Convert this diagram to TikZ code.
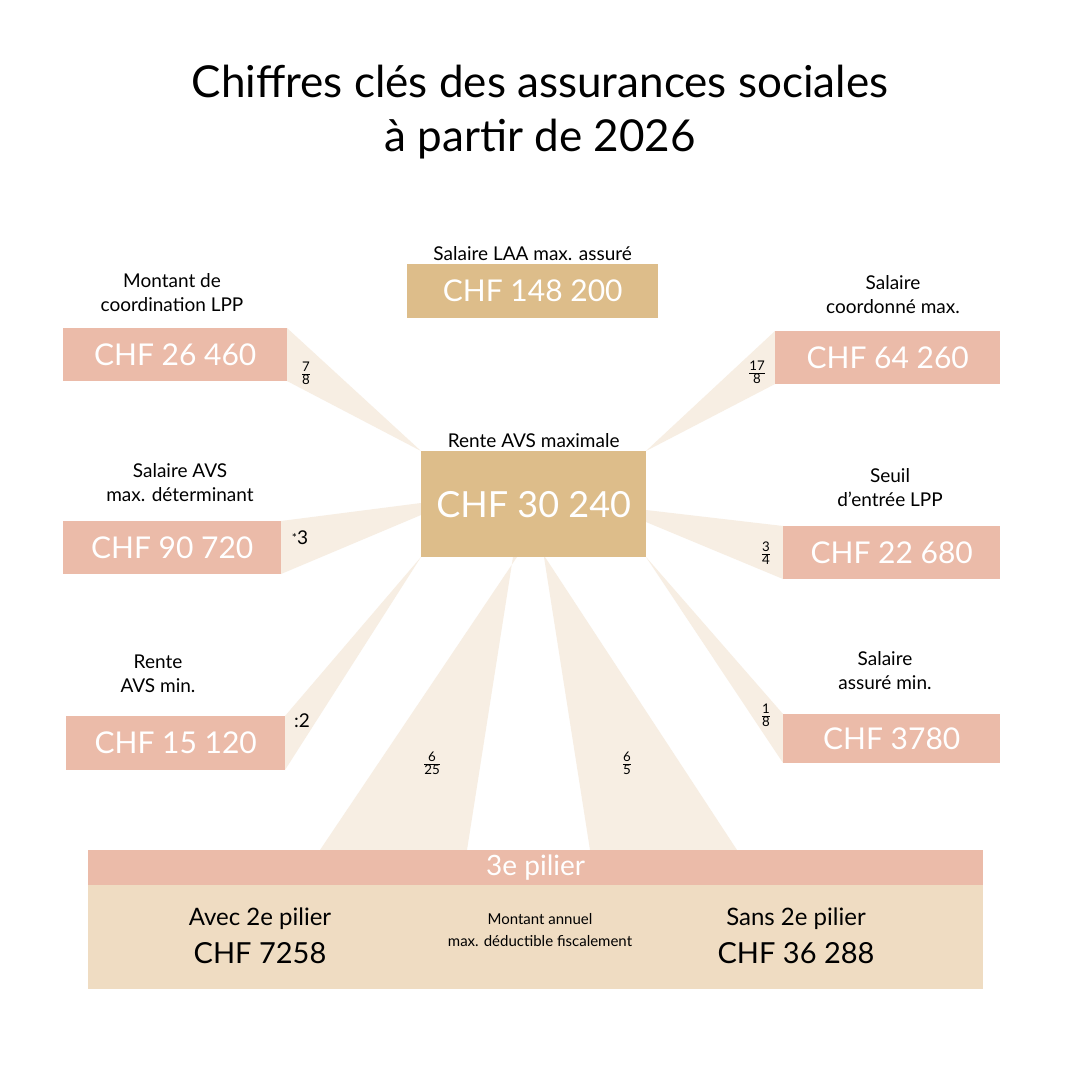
\documentclass[tikz,border=0pt]{standalone}
\usepackage{fontspec}
\setmainfont{Lato}
\definecolor{gold}{HTML}{DDBD8A}
\definecolor{pink}{HTML}{EBBBA9}
\definecolor{beam}{HTML}{F7EEE3}
\definecolor{panel}{HTML}{EFDCC2}
\begin{document}
\begin{tikzpicture}[x=1pt,y=-1pt,
  box/.style={draw=none,inner sep=0pt,anchor=north west,text=white,font=\fontsize{30}{30}\selectfont},
  lbl/.style={align=center,font=\fontsize{19}{24}\selectfont},
  fr/.style={font=\fontsize{19}{22}\selectfont}]
\useasboundingbox (0,0) rectangle (1080,1080);
\fill[white] (0,0) rectangle (1080,1080);
% beams
\fill[beam] (287,328)--(287,381)--(421,451)--cycle;
\fill[beam] (775,331)--(775,384)--(646,451)--cycle;
\fill[beam] (281,521)--(281,574)--(421,515)--(421,503)--cycle;
\fill[beam] (783,526)--(783,579)--(646,522)--(646,510)--cycle;
\fill[beam] (285,716)--(285,770)--(421,557)--cycle;
\fill[beam] (783,714)--(783,763)--(646,557)--cycle;
\fill[beam] (320,850)--(467,850)--(513,557)--(517,557)--cycle;
\fill[beam] (590,850)--(737,850)--(545,557)--(544,557)--cycle;
% title
\node[font=\fontsize{44}{54}\selectfont,align=center] (title) at (540,112) {Chiffres clés des assurances sociales\\à partir de 2026};
% central
\node[box,fill=gold,minimum width=225,minimum height=106,font=\fontsize{36}{36}\selectfont] (c) at (421,451) {CHF 30 240};
\node[lbl,anchor=south] (cl) at (c.north) {Rente AVS maximale};
\node[box,fill=gold,minimum width=251,minimum height=54] (t) at (407,264) {CHF 148 200};
\node[lbl,anchor=south] (tl) at (t.north) {Salaire LAA max. assuré};
% left
\node[box,fill=pink,minimum width=224,minimum height=53] (l1) at (63,328) {CHF 26 460};
\node[lbl] (l1l) at (172,293) {Montant de\\coordination LPP};
\node[box,fill=pink,minimum width=218,minimum height=53] (l2) at (63,521) {CHF 90 720};
\node[lbl] (l2l) at (180,483) {Salaire AVS\\max. déterminant};
\node[box,fill=pink,minimum width=219,minimum height=54] (l3) at (66,716) {CHF 15 120};
\node[lbl] (l3l) at (158,674) {Rente\\AVS min.};
% right
\node[box,fill=pink,minimum width=225,minimum height=53] (r1) at (775,331) {CHF 64 260};
\node[lbl] (r1l) at (893,295) {Salaire\\coordonné max.};
\node[box,fill=pink,minimum width=217,minimum height=53] (r2) at (783,526) {CHF 22 680};
\node[lbl] (r2l) at (890,488) {Seuil\\d’entrée LPP};
\node[box,fill=pink,minimum width=217,minimum height=49] (r3) at (783,714) {CHF 3780};
\node[lbl] (r3l) at (885,671) {Salaire\\assuré min.};
% fractions
\node[fr] (f1) at (306,373) {$\frac{\mathrm{7}}{\mathrm{8}}$};
\node[fr] (f2) at (757,372) {$\frac{\mathrm{17}}{\mathrm{8}}$};
\node[fr] (f3) at (300,538) {\raisebox{2pt}{\fontsize{12}{12}\selectfont*}3};
\node[fr] (f4) at (766,553) {$\frac{\mathrm{3}}{\mathrm{4}}$};
\node[fr] (f5) at (302,721) {:2};
\node[fr] (f6) at (766,715) {$\frac{\mathrm{1}}{\mathrm{8}}$};
\node[fr] (f7) at (432,763) {$\frac{\mathrm{6}}{\mathrm{25}}$};
\node[fr] (f8) at (627,763) {$\frac{\mathrm{6}}{\mathrm{5}}$};
% bottom
\fill[panel] (88,885) rectangle (983,989);
\node[box,fill=pink,minimum width=895,minimum height=35,font=\fontsize{28}{28}\selectfont] (p3) at (88,850) {3e pilier};
\node[align=center,font=\fontsize{24}{38}\selectfont] (a) at (260,936) {Avec 2e pilier\\\fontsize{29}{30}\selectfont CHF 7258};
\node[align=center,font=\fontsize{15}{22}\selectfont] (m) at (540,930) {Montant annuel\\max. déductible fiscalement};
\node[align=center,font=\fontsize{24}{38}\selectfont] (s) at (796,936) {Sans 2e pilier\\\fontsize{29}{30}\selectfont CHF 36 288};
\end{tikzpicture}
\end{document}
